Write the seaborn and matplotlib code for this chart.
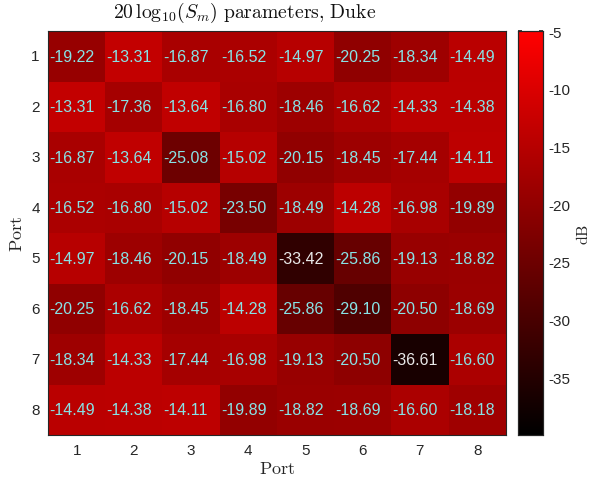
import numpy as np
import pandas as pd
import matplotlib
matplotlib.use("Agg")
import matplotlib.pyplot as plt
from matplotlib.colors import LinearSegmentedColormap
import seaborn as sns

ports = ["1", "2", "3", "4", "5", "6", "7", "8"]
row1 = [-19.22, -13.31, -16.87, -16.52, -14.97, -20.25, -18.34, -14.49]
row2 = [-13.31, -17.36, -13.64, -16.80, -18.46, -16.62, -14.33, -14.38]
row3 = [-16.87, -13.64, -25.08, -15.02, -20.15, -18.45, -17.44, -14.11]
row4 = [-16.52, -16.80, -15.02, -23.50, -18.49, -14.28, -16.98, -19.89]
row5 = [-14.97, -18.46, -20.15, -18.49, -33.42, -25.86, -19.13, -18.82]
row6 = [-20.25, -16.62, -18.45, -14.28, -25.86, -29.10, -20.50, -18.69]
row7 = [-18.34, -14.33, -17.44, -16.98, -19.13, -20.50, -36.61, -16.60]
row8 = [-14.49, -14.38, -14.11, -19.89, -18.82, -18.69, -16.60, -18.18]
cbar_ticks = [-35, -30, -25, -20, -15, -10, -5]

vals = np.array([row1, row2, row3, row4, row5, row6, row7, row8])
df = pd.DataFrame(vals, index=ports, columns=ports)

sns.set_theme(style="white")
SANS = "Liberation Sans"
plt.rcParams["font.family"] = [SANS, "DejaVu Sans"]
plt.rcParams["mathtext.fontset"] = "cm"

fig = plt.figure(figsize=(5.9, 4.85), dpi=100)
ax = fig.add_axes([0.0814, 0.101, 0.7758, 0.833])
cax = fig.add_axes([0.878, 0.101, 0.0424, 0.833])

cmap = LinearSegmentedColormap.from_list("k2r", ["#000000", "#ff0000"], N=256)
sns.heatmap(df, ax=ax, cbar_ax=cax, cmap=cmap, vmin=-40, vmax=-5,
            annot=False, linewidths=0, cbar_kws={"ticks": cbar_ticks})

n = len(ports)
for i in range(n):
    for j in range(n):
        v = vals[i, j]
        col = "#e8e8e8" if v < -30 else "#88e3e6"
        ax.text(j + 0.02, i + 0.5, f"{v:.2f}", ha="left", va="center",
                color=col, fontsize=11.5, family=SANS)

for a in (ax, cax):
    for s in a.spines.values():
        s.set_visible(True)
        s.set_color("#262626")
        s.set_linewidth(0.8)

ax.tick_params(axis="both", which="both", direction="in", length=3,
               top=True, right=True, bottom=True, left=True,
               labelsize=11, labelcolor="#262626", color="#262626", pad=6)
ax.set_xticklabels(ports, rotation=0, family=SANS)
ax.set_yticklabels(ports, rotation=0, family=SANS)
ax.set_xlabel(r"$\mathrm{Port}$", fontsize=13, color="#262626", labelpad=2)
ax.set_ylabel(r"$\mathrm{Port}$", fontsize=13, color="#262626", labelpad=4)
fig.text(245 / 590, 1 - 13 / 485,
         r"$20\,\mathrm{log}_{10}(S_m)\ \mathrm{parameters{,}\ Duke}$",
         fontsize=14.2, color="#111111", ha="center", va="center")

cax.tick_params(axis="y", direction="in", length=3, labelsize=11,
                labelcolor="#262626", color="#262626", right=True, left=True)
cax.set_yticklabels([str(t) for t in cbar_ticks], family=SANS)
cax.set_ylabel(r"$\mathrm{dB}$", fontsize=11.5, color="#262626", labelpad=4)

fig.savefig("out.png", dpi=100)
